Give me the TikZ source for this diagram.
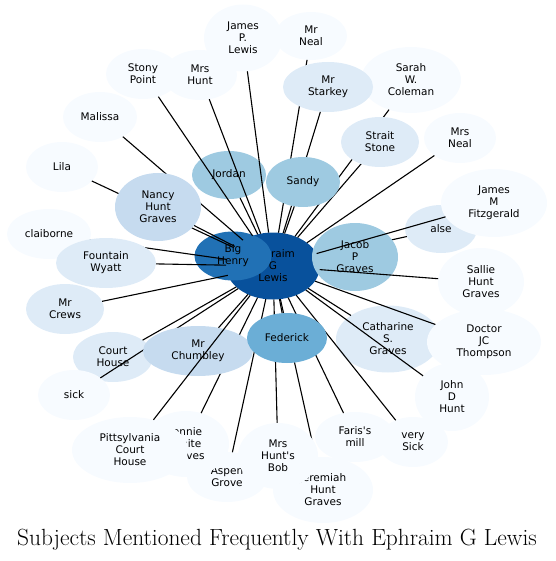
\documentclass[tikz,border=0pt]{standalone}
\usepackage{fontspec}
\usepackage{xcolor}
\usepackage{tikz}
\usetikzlibrary{shapes.geometric}

\newfontfamily\labelfont{DejaVu Sans}

\definecolor{blueA}{HTML}{F7FBFF}
\definecolor{blueB}{HTML}{DEEBF7}
\definecolor{blueC}{HTML}{C6DBEF}
\definecolor{blueD}{HTML}{9ECAE1}
\definecolor{blueE}{HTML}{6BAED6}
\definecolor{blueG}{HTML}{2171B5}
\definecolor{blueH}{HTML}{08519C}

\pgfdeclarelayer{nodesA}
\pgfdeclarelayer{linksA}
\pgfdeclarelayer{nodesB}
\pgfdeclarelayer{linksB}
\pgfdeclarelayer{nodesC}
\pgfsetlayers{nodesA,linksA,nodesB,linksB,nodesC,main}

\begin{document}
\begin{tikzpicture}[x=1pt, y=-1pt,
    subject/.style={ellipse, inner sep=0pt, outer sep=0pt, align=center,
        font=\labelfont\fontsize{10.5}{12}\selectfont, text=black},
    link/.style={draw=black, line width=1.1pt}]
    \useasboundingbox (0,0) rectangle (555,561);

    % Back nodes
    \begin{pgfonlayer}{nodesA}
        \node[subject, fill=blueH, minimum width=94, minimum height=67] (eph) at (273,266) {Ephraim\\G\\Lewis};
        \node[subject, fill=blueG, minimum width=77, minimum height=49] (henry) at (233,256) {Big\\Henry};
        \node[subject, fill=blueD, minimum width=74, minimum height=48] (jordan) at (229,175) {Jordan};
        \node[subject, fill=blueB, minimum width=72, minimum height=48] (alse) at (441,229) {alse};
        \node[subject, fill=blueB, minimum width=104, minimum height=67] (catharine) at (388,339) {Catharine\\S.\\Graves};
        \node[subject, fill=blueB, minimum width=80, minimum height=50] (courthouse) at (113,357) {Court\\House};
        \node[subject, fill=blueB, minimum width=78, minimum height=50] (mrcrews) at (65,309) {Mr\\Crews};
        \node[subject, fill=blueA, minimum width=78, minimum height=67] (jplewis) at (243,38) {James\\P.\\Lewis};
        \node[subject, fill=blueA, minimum width=72, minimum height=48] (mrneal) at (311,36) {Mr\\Neal};
        \node[subject, fill=blueA, minimum width=100, minimum height=66] (sarah) at (411,80) {Sarah\\W.\\Coleman};
        \node[subject, fill=blueA, minimum width=74, minimum height=50] (stony) at (143,74) {Stony\\Point};
        \node[subject, fill=blueA, minimum width=74, minimum height=50] (mrshunt) at (200,75) {Mrs\\Hunt};
        \node[subject, fill=blueA, minimum width=74, minimum height=50] (malissa) at (100,117) {Malissa};
        \node[subject, fill=blueA, minimum width=72, minimum height=50] (lila) at (62,167) {Lila};
        \node[subject, fill=blueA, minimum width=84, minimum height=50] (claiborne) at (49,234) {claiborne};
        \node[subject, fill=blueA, minimum width=72, minimum height=50] (mrsneal) at (460,138) {Mrs\\Neal};
        \node[subject, fill=blueA, minimum width=106, minimum height=68] (fitz) at (494,203) {James\\M\\Fitzgerald};
        \node[subject, fill=blueA, minimum width=86, minimum height=68] (sallie) at (481,282) {Sallie\\Hunt\\Graves};
        \node[subject, fill=blueA, minimum width=74, minimum height=68] (johnhunt) at (452,397) {John\\D\\Hunt};
        \node[subject, fill=blueA, minimum width=70, minimum height=50] (verysick) at (413,442) {very\\Sick};
        \node[subject, fill=blueA, minimum width=80, minimum height=50] (faris) at (355,437) {Faris's\\mill};
        \node[subject, fill=blueA, minimum width=100, minimum height=66] (jeremiah) at (323,490) {Jeremiah\\Hunt\\Graves};
        \node[subject, fill=blueA, minimum width=80, minimum height=50] (aspen) at (227,477) {Aspen\\Grove};
        \node[subject, fill=blueA, minimum width=86, minimum height=66] (jennie) at (186,444) {Jennie\\White\\Graves};
        \node[subject, fill=blueA, minimum width=72, minimum height=50] (sick) at (74,395) {sick};
    \end{pgfonlayer}

    % Middle nodes
    \begin{pgfonlayer}{nodesB}
        \node[subject, fill=blueC, minimum width=86, minimum height=68] (nancy) at (158,207) {Nancy\\Hunt\\Graves};
        \node[subject, fill=blueB, minimum width=100, minimum height=50] (fountain) at (106,263) {Fountain\\Wyatt};
        \node[subject, fill=blueB, minimum width=90, minimum height=50] (starkey) at (328,87) {Mr\\Starkey};
        \node[subject, fill=blueB, minimum width=78, minimum height=50] (strait) at (380,142) {Strait\\Stone};
        \node[subject, fill=blueD, minimum width=86, minimum height=68] (jacob) at (355,257) {Jacob\\P\\Graves};
        \node[subject, fill=blueC, minimum width=110, minimum height=50] (chumbley) at (198,351) {Mr\\Chumbley};
        \node[subject, fill=blueE, minimum width=80, minimum height=50] (federick) at (287,338) {Federick};
        \node[subject, fill=blueA, minimum width=80, minimum height=66] (huntsbob) at (278,456) {Mrs\\Hunt's\\Bob};
        \node[subject, fill=blueA, minimum width=116, minimum height=66] (pittsylvania) at (130,450) {Pittsylvania\\Court\\House};
        \node[subject, fill=blueA, minimum width=114, minimum height=66] (doctor) at (484,342) {Doctor\\JC\\Thompson};
    \end{pgfonlayer}

    % Front node
    \begin{pgfonlayer}{nodesC}
        \node[subject, fill=blueD, minimum width=74, minimum height=50] (sandy) at (303,182) {Sandy};
    \end{pgfonlayer}

    % Links under the middle nodes
    \begin{pgfonlayer}{linksA}
        \draw[link] (eph) -- (jplewis);
        \draw[link] (eph) -- (mrneal);
        \draw[link] (eph) -- (sarah);
        \draw[link] (eph) -- (stony);
        \draw[link] (eph) -- (mrshunt);
        \draw[link] (eph) -- (malissa);
        \draw[link] (eph) -- (lila);
        \draw[link] (eph) -- (claiborne);
        \draw[link] (eph) -- (nancy);
        \draw[link] (eph) -- (fountain);
        \draw[link] (eph) -- (jordan);
        \draw[link] (eph) -- (sandy);
        \draw[link] (eph) -- (starkey);
        \draw[link] (eph) -- (strait);
        \draw[link] (eph) -- (mrsneal);
        \draw[link] (eph) -- (alse);
        \draw[link] (eph) -- (doctor);
        \draw[link] (eph) -- (catharine);
        \draw[link] (eph) -- (johnhunt);
        \draw[link] (eph) -- (verysick);
        \draw[link] (eph) -- (faris);
        \draw[link] (eph) -- (jeremiah);
        \draw[link] (eph) -- (huntsbob);
        \draw[link] (eph) -- (federick);
        \draw[link] (eph) -- (aspen);
        \draw[link] (eph) -- (jennie);
        \draw[link] (eph) -- (chumbley);
        \draw[link] (eph) -- (courthouse);
        \draw[link] (eph) -- (sick);
        \draw[link] (eph) -- (mrcrews);
    \end{pgfonlayer}

    % Links over the middle nodes
    \begin{pgfonlayer}{linksB}
        \draw[link] (eph) -- (fitz);
        \draw[link] (eph) -- (sallie);
        \draw[link] (eph) -- (pittsylvania);
    \end{pgfonlayer}

    % Title
    \node[anchor=base, font=\fontsize{23.4}{27}\selectfont] (title) at (277,545)
        {Subjects Mentioned Frequently With Ephraim G Lewis};
\end{tikzpicture}
\end{document}
